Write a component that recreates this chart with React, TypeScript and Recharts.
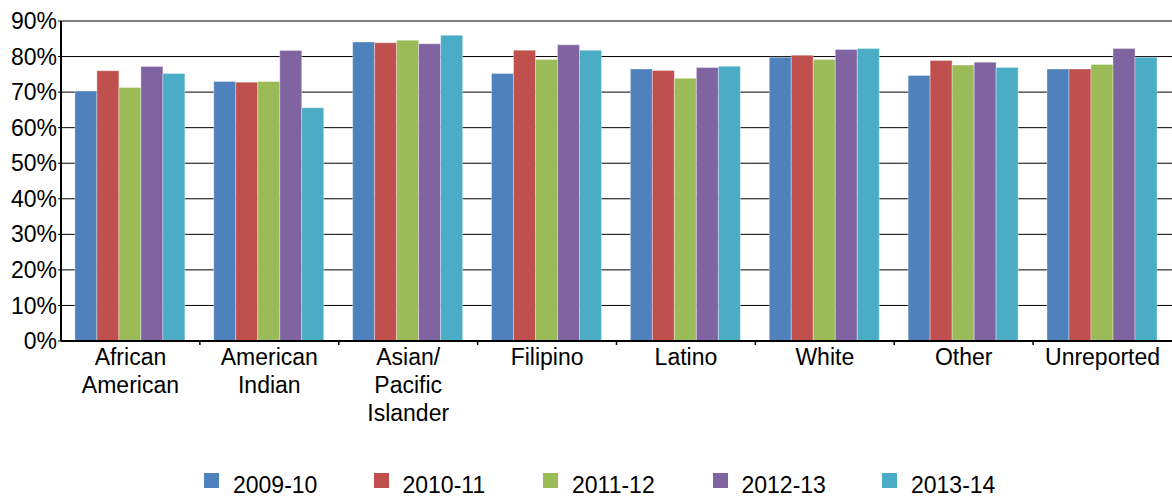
import React from "react";
import { BarChart, Bar, XAxis, YAxis, CartesianGrid, Legend } from "recharts";

const categories = [
  "African American",
  "American Indian",
  "Asian/ Pacific Islander",
  "Filipino",
  "Latino",
  "White",
  "Other",
  "Unreported",
];
const categoryLines: string[][] = [
  ["African", "American"],
  ["American", "Indian"],
  ["Asian/", "Pacific", "Islander"],
  ["Filipino"],
  ["Latino"],
  ["White"],
  ["Other"],
  ["Unreported"],
];

const seriesNames = ["2009-10", "2010-11", "2011-12", "2012-13", "2013-14"];
const seriesColors = ["#4F81BD", "#C0504D", "#9BBB59", "#8064A2", "#4BACC6"];

const v2009 = [70.3, 73.0, 84.1, 75.2, 76.5, 79.8, 74.7, 76.5];
const v2010 = [76.0, 72.8, 83.9, 81.8, 76.1, 80.4, 78.9, 76.5];
const v2011 = [71.3, 73.0, 84.6, 79.2, 73.9, 79.2, 77.6, 77.8];
const v2012 = [77.2, 81.7, 83.6, 83.3, 76.9, 82.0, 78.4, 82.3];
const v2013 = [75.2, 65.6, 86.0, 81.8, 77.3, 82.3, 76.9, 79.8];

const yTicks = [0, 10, 20, 30, 40, 50, 60, 70, 80, 90];

const seriesValues = [v2009, v2010, v2011, v2012, v2013];
const data = categories.map((c, i) => {
  const row: Record<string, any> = { category: c, idx: i };
  seriesNames.forEach((s, k) => {
    row[s] = seriesValues[k][i];
  });
  return row;
});

const FONT = "'Liberation Sans', Arial, sans-serif";

const XTick = (props: any) => {
  const { x, y, payload, width, visibleTicksCount, index } = props;
  const idx = categories.indexOf(payload.value);
  const lines = idx >= 0 ? categoryLines[idx] : [String(payload.value)];
  const count = visibleTicksCount || categories.length;
  const band = width ? width / count : 0;
  const axisY = y - 8;
  const isLast = index === count - 1;
  return (
    <g>
      {!isLast && band > 0 ? (
        <line
          x1={x + band / 2}
          x2={x + band / 2}
          y1={axisY}
          y2={axisY + 4}
          stroke="#000"
          strokeWidth={1.5}
        />
      ) : null}
      <text
        x={x}
        y={y}
        textAnchor="middle"
        fill="#000"
        fontSize={23}
        fontFamily={FONT}
      >
        {lines.map((l, i) => (
          <tspan key={i} x={x} dy={i === 0 ? "0.71em" : 28}>
            {l}
          </tspan>
        ))}
      </text>
    </g>
  );
};

const LegendContent = (props: any) => {
  const { payload } = props;
  return (
    <div style={{ display: "flex", fontFamily: FONT }}>
      {(payload || []).map((p: any, i: number) => (
        <div
          key={i}
          style={{ width: 169.5, display: "flex", alignItems: "flex-start" }}
        >
          <div
            style={{ width: 15, height: 15, background: p.color, marginTop: 0 }}
          />
          <div
            style={{
              marginLeft: 14,
              fontSize: 23,
              lineHeight: "23px",
              marginTop: 1,
              color: "#000",
            }}
          >
            {p.value}
          </div>
        </div>
      ))}
    </div>
  );
};

export default function App() {
  return (
    <div
      style={{
        position: "absolute",
        left: 0,
        top: 0,
        width: 1172,
        height: 500,
        background: "#fff",
      }}
    >
      <BarChart
        width={1172}
        height={500}
        data={data}
        margin={{ top: 21, right: 0, left: 0, bottom: 0 }}
        barCategoryGap="10%"
        barGap={0}
      >
        <CartesianGrid vertical={false} stroke="#000" strokeWidth={1} />
        <XAxis
          dataKey="category"
          height={159}
          interval={0}
          axisLine={{ stroke: "#000", strokeWidth: 2 }}
          tickLine={false}
          tick={<XTick />}
        />
        <YAxis
          width={61}
          domain={[0, 90]}
          ticks={yTicks}
          interval={0}
          tickFormatter={(v: number) => `${v}%`}
          axisLine={{ stroke: "#000", strokeWidth: 2 }}
          tickLine={{ stroke: "#000" }}
          tickSize={3}
          tickMargin={1}
          tick={{ fill: "#000", fontSize: 23, fontFamily: FONT }}
        />
        <Legend
          verticalAlign="middle"
          layout="horizontal"
          wrapperStyle={{ top: 473, left: 204, width: 900 }}
          content={<LegendContent />}
        />
        {seriesNames.map((s, k) => (
          <Bar
            key={s}
            dataKey={s}
            name={s}
            fill={seriesColors[k]}
            stroke="#ffffff"
            strokeOpacity={0.35}
            strokeWidth={1}
            isAnimationActive={false}
          />
        ))}
      </BarChart>
    </div>
  );
}
